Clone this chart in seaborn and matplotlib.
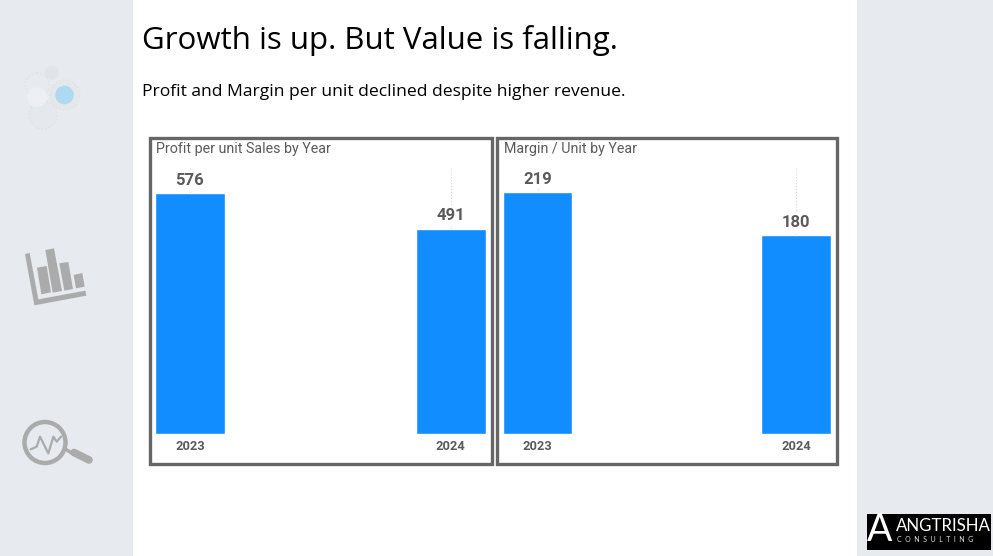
import pandas as pd
import seaborn as sns
import matplotlib.pyplot as plt
from matplotlib.patches import Circle, Polygon, Rectangle

years = ["2023", "2024"]
profit_per_unit = [576, 491]
margin_per_unit = [219, 180]

W, H = 993, 556
SIDE = "#E7EAEE"
BLUE = "#118DFF"
TEXT = "#5A5A5A"
ICON = "#ABABAB"

sns.set_theme(style="white")
plt.rcParams["font.family"] = ["Open Sans", "DejaVu Sans"]


def px_axes(fig, left, top, right, bottom):
    return fig.add_axes([left / W, 1 - bottom / H, (right - left) / W, (bottom - top) / H])


def draw_panel(fig, canvas, frame, plot_box, title, values, ymax, bar_width):
    x0, y0, x1, y1 = frame
    canvas.add_patch(Rectangle((x0, y0), x1 - x0, y1 - y0, fc="white", ec="#666666", lw=2.4))
    canvas.text(plot_box[0] + 1, 149.5, title, fontsize=10.3, color=TEXT, family="Roboto", va="center")

    ax = px_axes(fig, *plot_box)
    ax.patch.set_alpha(0)
    df = pd.DataFrame({"year": years, "value": values})
    sns.barplot(data=df, x="year", y="value", color=BLUE, saturation=1, width=bar_width, ax=ax)
    half = bar_width / 2
    ax.set_xlim(-half, 1 + half)
    ax.set_ylim(0, ymax)
    ax.set_xlabel("")
    ax.set_ylabel("")
    ax.set_yticks([])
    ax.grid(axis="x", color="#D9D9D9", linestyle=":", linewidth=0.8)
    ax.set_axisbelow(True)
    ax.tick_params(axis="x", length=0, pad=4.5, labelsize=9.3, labelcolor=TEXT)
    for lab in ax.get_xticklabels():
        lab.set_fontweight("semibold")
        lab.set_family("Roboto")
    sns.despine(ax=ax, left=True, bottom=True)
    ax.bar_label(ax.containers[0], fmt="%d", padding=4, fontsize=12, color=TEXT,
                 fontweight="semibold", family="Roboto",
                 bbox=dict(fc="white", ec="none", pad=1.5))


def draw_icons(canvas):
    # dotted blobs and blue dot, top of the side bar
    canvas.add_patch(Circle((51.5, 73), 7, fc="#E3E4E7", ec="none"))
    canvas.add_patch(Circle((37, 85), 12, fc="none", ec="#E0E2E6", lw=1.0, ls=":"))
    canvas.add_patch(Circle((43, 115), 14, fc="#E5E8EC", ec="#DFE1E5", lw=1.0, ls=":"))
    canvas.add_patch(Circle((37, 97), 10, fc="#EDEFF2", ec="none"))
    canvas.add_patch(Circle((65, 95), 15, fc="#E5E7EB", ec="#DFE1E5", lw=1.0, ls=":"))
    canvas.add_patch(Circle((64.5, 95), 9.3, fc="#ACDAF0", ec="none"))

    # tilted bar chart icon
    zoomed = [
        [(75, 72), (89, 69), (115, 208), (256, 182), (259, 197), (103, 226)],
        [(111, 113), (140, 108), (153, 187), (124, 193)],
        [(136, 60), (162, 55), (186, 183), (158, 188)],
        [(178, 100), (205, 96), (219, 177), (193, 182)],
        [(221, 135), (247, 129), (254, 170), (228, 175)],
    ]
    for pts in zoomed:
        canvas.add_patch(Polygon([(x / 3, y / 3 + 230) for x, y in pts], fc=ICON, ec="none"))

    # magnifier with pulse
    canvas.add_patch(Circle((45, 442.5), 20.5, fc="none", ec=ICON, lw=3.2))
    canvas.plot([67, 73], [450, 454], color=ICON, lw=2.5, solid_capstyle="round")
    canvas.plot([74, 89], [452.5, 460], color=ICON, lw=5.5, solid_capstyle="round")
    pulse = [(92, 658), (110, 650), (120, 620), (145, 670), (160, 620), (170, 635), (183, 620)]
    canvas.plot([x / 3 for x, _ in pulse], [y / 3 + 230 for _, y in pulse], color=ICON, lw=1.6)


fig = plt.figure(figsize=(W / 100, H / 100), dpi=100, facecolor="white")
canvas = fig.add_axes([0, 0, 1, 1])
canvas.set_xlim(0, W)
canvas.set_ylim(H, 0)
canvas.axis("off")

canvas.add_patch(Rectangle((0, 0), 133, H, fc=SIDE, ec="none"))
canvas.add_patch(Rectangle((857, 0), W - 857, H, fc=SIDE, ec="none"))
draw_icons(canvas)

canvas.text(142.5, 40, "Growth is up. But Value is falling.", fontsize=22.5, color="black", va="center")
canvas.text(142.5, 92.5, "Profit and Margin per unit declined despite higher revenue.", fontsize=12.6,
            color="black", va="center")

draw_panel(fig, canvas, (149.5, 138, 492, 464), (154.7, 167.5, 486, 433.5),
           "Profit per unit Sales by Year", profit_per_unit, 638, 0.27)
draw_panel(fig, canvas, (497, 138, 837, 464), (502.7, 167.5, 831, 433.5),
           "Margin / Unit by Year", margin_per_unit, 241.7, 0.27)

# logo
canvas.add_patch(Rectangle((867, 514), 124, 35.5, fc="black", ec="none"))
canvas.text(880, 530, "A", fontsize=27, color="white", family="Lato", ha="center", va="center")
canvas.text(896, 526, "ANGTRISHA", fontsize=12.2, color="white", family="Lato", va="center")
canvas.text(897, 539.5, "C  O  N  S  U  L  T  I  N  G", fontsize=5, color="#DDDDDD", family="Lato", va="center")

fig.savefig("out.png", dpi=100)
